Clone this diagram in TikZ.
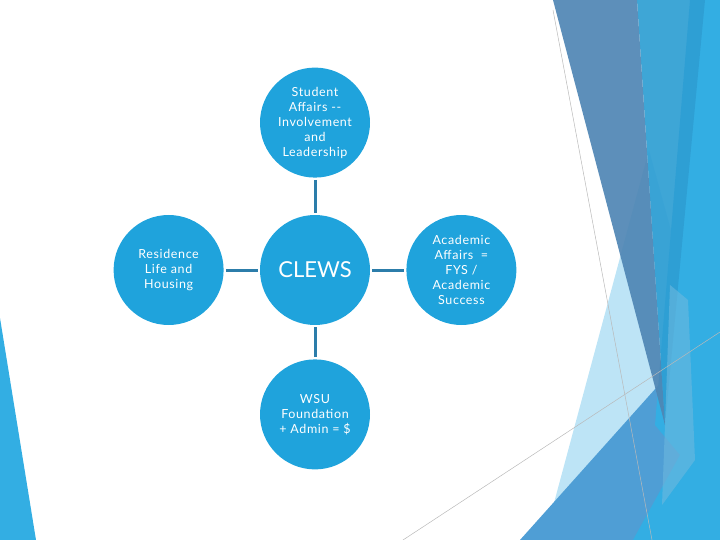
\documentclass[tikz,border=0pt]{standalone}
\usepackage{fontspec}
\setmainfont{Lato}
\newfontfamily\hubfont{Lato}[LetterSpace=5]
\usepackage{xcolor}
\usetikzlibrary{positioning}
\definecolor{hubblue}{HTML}{1FA3DC}
\definecolor{linkblue}{HTML}{2C7DAA}
\definecolor{fsky}{HTML}{BDE4F6}
\definecolor{fsteel}{HTML}{4F86B4}
\definecolor{fmid}{HTML}{2E9ED3}
\definecolor{fdiag}{HTML}{4F9ED5}
\definecolor{fbright}{HTML}{33AEE3}
\definecolor{fpale}{HTML}{6CB8DE}
\tikzset{
  hub/.style={circle,fill=hubblue,minimum size=110pt,inner sep=0pt,align=center,
              text=white,font=\hubfont\fontsize{12.5}{15}\selectfont},
  link/.style={line width=3pt,linkblue,shorten <=2pt,shorten >=2pt},
  facet/.style={opacity=0.92},
  hair/.style={gray!55,line width=0.5pt},
}
\begin{document}
\begin{tikzpicture}[x=1pt,y=-1pt]
\useasboundingbox (0,0) rectangle (720,540);
% facets, right and left edges
\fill[fsky] (649,150) -- (690,300) -- (690,540) -- (544,540) -- cycle;
\fill[fdiag] (520,540) -- (665,378) -- (720,330) -- (720,540) -- cycle;
\fill[fbright] (690,0) -- (720,0) -- (720,540) -- (633,540) -- (680,455) -- (655,425) -- cycle;
\fill[fmid,facet] (637,0) -- (705,0) -- (665,425) -- cycle;
\fill[fsteel,facet] (553,0) -- (637,0) -- (665,425) -- cycle;
\fill[fpale,opacity=0.6] (670,285) -- (688,300) -- (695,460) -- (662,505) -- (665,425) -- cycle;
\fill[fbright] (0,318) -- (36,540) -- (0,540) -- cycle;
\draw[hair] (553,10) -- (652,540);
\draw[hair] (403,540) -- (720,332);
% hubs
\node[hub,font=\fontsize{22}{26}\selectfont] (clews) at (315,270) {CLEWS};
\node[hub,above=37pt of clews] (stud) {Student\\Affairs {-}{-}\\Involvement\\and\\Leadership};
\node[hub,left=36pt of clews] (resl) {Residence\\Life and\\Housing};
\node[hub,right=36pt of clews] (acad) {Academic\\Affairs \ =\\FYS /\\Academic\\Success};
\node[hub,below=34pt of clews] (wsuf) {WSU\\Foundation\\+ Admin = \$};
\draw[link] (stud) -- (clews);
\draw[link] (resl) -- (clews);
\draw[link] (acad) -- (clews);
\draw[link] (wsuf) -- (clews);
\end{tikzpicture}
\end{document}
